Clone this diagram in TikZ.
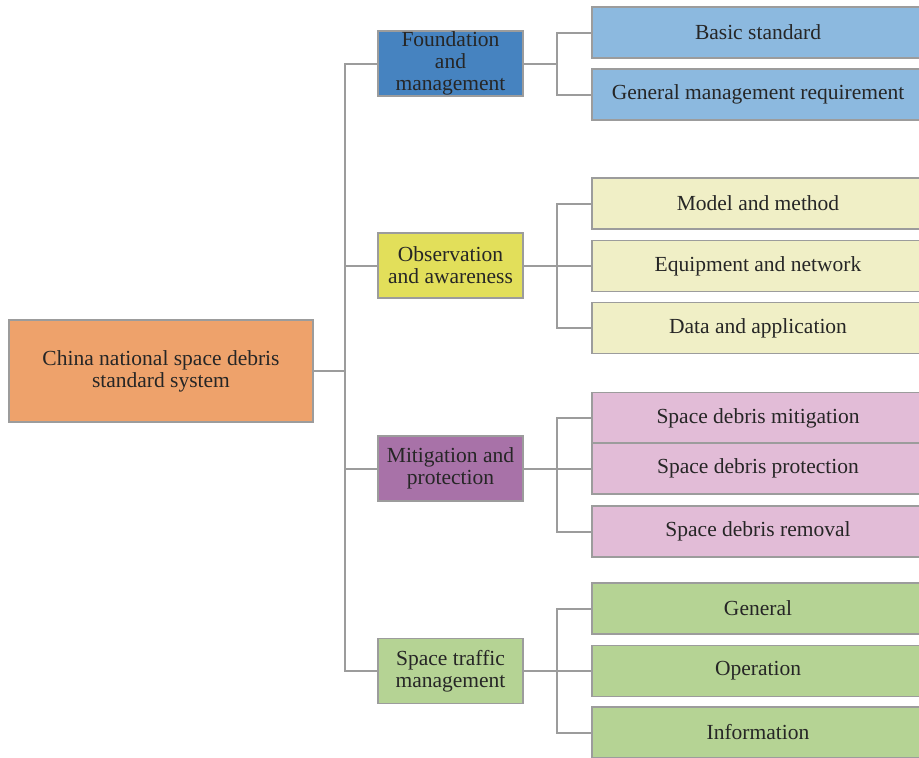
\documentclass[tikz,border=0pt]{standalone}
\usepackage{fontspec}
\setmainfont{Liberation Serif}
\usepackage{xcolor}
\usetikzlibrary{positioning}

\definecolor{rootorange}{HTML}{EEA26B}
\definecolor{founddark}{HTML}{4683C0}
\definecolor{foundlight}{HTML}{8CB9DF}
\definecolor{obsdark}{HTML}{E2DF5A}
\definecolor{obslight}{HTML}{F0EFC6}
\definecolor{mitdark}{HTML}{A872A8}
\definecolor{mitlight}{HTML}{E2BCD7}
\definecolor{trafgreen}{HTML}{B5D394}
\definecolor{edgegray}{HTML}{9C9C9C}

\begin{document}
\begin{tikzpicture}[x=1pt, y=-1pt,
  box/.style={rectangle, draw=edgegray, line width=1.8pt, inner sep=0pt, align=center,
    text=black!85, font=\fontsize{21.5}{22}\selectfont},
  rootbox/.style={box, minimum width=304pt, minimum height=102pt, fill=rootorange},
  catbox/.style={box, minimum width=145pt, minimum height=65pt},
  leafbox/.style={box, minimum width=332pt, minimum height=51pt},
  link/.style={draw=edgegray, line width=2pt}]

\useasboundingbox (0,0) rectangle (919,758);

% root and main categories
\node[rootbox] (root) at (161,371) {China national space debris\\standard system};

\node[catbox, fill=founddark] (found) at (450.5,63.5) {Foundation\\and\\management};
\node[catbox, fill=obsdark] (obs) at (450.5,265.5) {Observation\\and awareness};
\node[catbox, fill=mitdark] (mit) at (450.5,468.5) {Mitigation and\\protection};
\node[catbox, fill=trafgreen] (traf) at (450.5,671) {Space traffic\\management};

% sub-items
\node[leafbox, fill=foundlight] (basic) at (758,32.5) {Basic standard};
\node[leafbox, fill=foundlight] (genman) at (758,94.5) {General management requirement};

\node[leafbox, fill=obslight] (model) at (758,203.5) {Model and method};
\node[leafbox, fill=obslight] (equip) at (758,266) {Equipment and network};
\node[leafbox, fill=obslight] (data) at (758,328) {Data and application};

\node[leafbox, fill=mitlight] (sdmit) at (758,418) {Space debris mitigation};
\node[leafbox, fill=mitlight] (sdprot) at (758,468.5) {Space debris protection};
\node[leafbox, fill=mitlight] (sdrem) at (758,531.5) {Space debris removal};

\node[leafbox, fill=trafgreen] (gen) at (758,608.5) {General};
\node[leafbox, fill=trafgreen] (oper) at (758,671) {Operation};
\node[leafbox, fill=trafgreen] (info) at (758,732.5) {Information};

% trunk and branch points
\coordinate (trunk) at (345,371);
\coordinate (foundfork) at (557,63.5);
\coordinate (obsfork) at (557,265.5);
\coordinate (mitfork) at (557,468.5);
\coordinate (trafork) at (557,671);

\draw[link] (root) -- (trunk);
\draw[link] (trunk) |- (found);
\draw[link] (trunk) |- (obs);
\draw[link] (trunk) |- (mit);
\draw[link] (trunk) |- (traf);

\draw[link] (found) -- (foundfork);
\draw[link] (foundfork) |- (basic);
\draw[link] (foundfork) |- (genman);

\draw[link] (obs) -- (obsfork);
\draw[link] (obsfork) |- (model);
\draw[link] (obsfork) |- (equip);
\draw[link] (obsfork) |- (data);

\draw[link] (mit) -- (mitfork);
\draw[link] (mitfork) |- (sdmit);
\draw[link] (mitfork) |- (sdprot);
\draw[link] (mitfork) |- (sdrem);

\draw[link] (traf) -- (trafork);
\draw[link] (trafork) |- (gen);
\draw[link] (trafork) |- (oper);
\draw[link] (trafork) |- (info);

\end{tikzpicture}
\end{document}
